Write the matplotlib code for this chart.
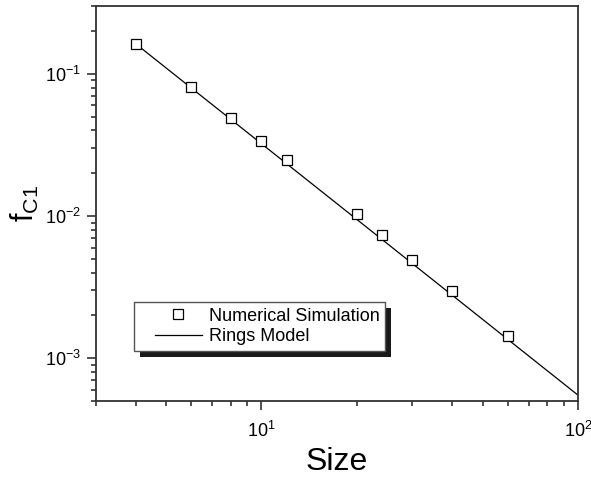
import matplotlib
matplotlib.use("Agg")
import matplotlib.pyplot as plt
from matplotlib.patches import Rectangle
from matplotlib.legend_handler import HandlerLine2D

plt.rcParams["font.family"] = ["Liberation Sans", "DejaVu Sans"]
plt.rcParams["mathtext.default"] = "regular"

# simulation points
sizes = [4, 6, 8, 10, 12, 20, 24, 30, 40, 60]
f_c1 = [0.163, 0.081, 0.0489, 0.0336, 0.0247, 0.0103, 0.00734, 0.0049, 0.00296, 0.00144]

# rings model (straight line on log-log)
model_sizes = [4, 100]
model_f = [0.163, 0.00055]


# legend handle that leaves a gap on its left, like Origin does
class GapHandler(HandlerLine2D):
    def get_xdata(self, legend, xdescent, ydescent, width, height, fontsize):
        x0 = -xdescent + 0.25 * width
        x1 = -xdescent + width
        return [x0, x1], [0.5 * (x0 + x1)]


fig = plt.figure(figsize=(5.91, 4.79), dpi=100)
ax = fig.add_axes([0.1624, 0.1628, 0.8156, 0.8247])

line, = ax.plot(model_sizes, model_f, color="black", lw=0.9, label="Rings Model")
pts, = ax.plot(sizes, f_c1, ls="none", marker="s", ms=7, mfc="white", mec="black",
               mew=0.9, label="Numerical Simulation")

ax.set_xscale("log")
ax.set_yscale("log")
ax.set_xlim(3, 100)
ax.set_ylim(5e-4, 0.3)

for s in ax.spines.values():
    s.set_linewidth(1.3)
    s.set_color("#333333")

ax.tick_params(which="both", direction="out", top=False, right=False,
               color="#333333", width=1.2, labelsize=13)
ax.tick_params(which="major", length=6.5)
ax.tick_params(which="minor", length=3.8, labelbottom=False, labelleft=False)
ax.tick_params(axis="x", which="major", pad=8)
ax.tick_params(axis="y", which="major", pad=4)

ax.set_xlabel("Size", fontsize=23, labelpad=4)
ax.set_ylabel("f$_{C1}$", fontsize=22)
ax.yaxis.set_label_coords(-0.115, 0.5)

leg = ax.legend([pts, line], ["Numerical Simulation", "Rings Model"],
                handler_map={pts: GapHandler(), line: GapHandler()},
                loc="upper left", bbox_to_anchor=(0.079, 0.25), frameon=True,
                fancybox=False, framealpha=1, facecolor="white",
                edgecolor="#555555", fontsize=13, handlelength=3.45,
                borderpad=0.3, labelspacing=0.2, handletextpad=0.4,
                borderaxespad=0)
leg.get_frame().set_linewidth(1.0)
leg.set_zorder(5)

fig.canvas.draw()
bb = leg.get_window_extent()
shadow = Rectangle((bb.x0 + 6, bb.y0 - 6), bb.width, bb.height,
                   transform=None, facecolor="#1a1a1a", edgecolor="none",
                   zorder=4)
ax.add_artist(shadow)

fig.savefig("out.png", dpi=100)
